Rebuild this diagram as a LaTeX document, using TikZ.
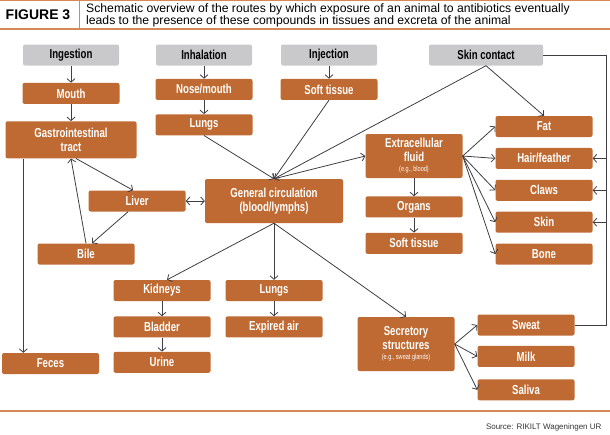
\documentclass[tikz,border=0pt]{standalone}
\usepackage{fontspec}
\setsansfont{Liberation Sans}[FakeStretch=0.74]
\newfontfamily\headfont{Liberation Sans}
\usetikzlibrary{arrows.meta,positioning,calc}
\definecolor{boxorange}{RGB}{190,106,50}
\definecolor{srcgray}{RGB}{201,201,204}
\definecolor{rulecol}{RGB}{214,137,84}
\definecolor{wire}{RGB}{62,62,68}
\newcommand{\egnote}[1]{{\mdseries\fontsize{7.5}{8}\selectfont #1}}

\begin{document}
\begin{tikzpicture}[
  x=1pt, y=1pt,
  font=\sffamily\bfseries\fontsize{13}{13.5}\selectfont,
  >={Straight Barb[length=3.5pt,width=8pt]},
  source/.style={fill=srcgray, rounded corners=2pt, align=center,
                 minimum height=21pt, minimum width=96pt, inner sep=0pt},
  block/.style={fill=boxorange, text=white, rounded corners=2pt, align=center,
                minimum height=21pt, minimum width=97pt, inner sep=0pt},
  sig/.style={draw=wire, line width=0.8pt}
]
\useasboundingbox (0,0) rectangle (610,-434);

% Header
\draw[rulecol, line width=1.2pt] (0,-0.6) -- (610,-0.6);
\draw[rulecol, line width=1.2pt] (0,-29) -- (610,-29);
\draw[rulecol, line width=1pt] (79,0) -- (79,-29);
\node[font=\headfont\bfseries\fontsize{14}{14}\selectfont] (figlabel) at (38,-15) {FIGURE 3};
\node[anchor=west, align=left, inner sep=0pt,
      font=\headfont\fontsize{12.2}{12}\selectfont] (title) at (86,-15)
  {Schematic overview of the routes by which exposure of an animal to antibiotics eventually\\
   leads to the presence of these compounds in tissues and excreta of the animal};

% Routes of exposure
\node[source] (ingestion) at (71,-55) {Ingestion};
\node[block, below=17pt of ingestion] (mouth) {Mouth};
\node[block, minimum width=131pt, minimum height=37pt, below=17pt of mouth] (gastro)
  {Gastrointestinal\\tract};

\node[source] (inhalation) at (204,-55) {Inhalation};
\node[block, below=13pt of inhalation] (nose) {Nose/mouth};
\node[block, below=14pt of nose] (lungsA) {Lungs};

\node[source] (injection) at (329,-55) {Injection};
\node[block, below=13pt of injection] (softA) {Soft tissue};

\node[source, minimum width=114pt] (skincontact) at (486,-55) {Skin contact};

% Distribution
\node[block, minimum width=138pt, minimum height=44pt] (gc) at (274,-201)
  {General circulation\\(blood/lymphs)};
\node[block, left=19pt of gc] (liver) {Liver};
\node[block] (bile) at (86,-254) {Bile};

\node[block, minimum height=44pt] (extra) at (414,-156)
  {Extracellular\\fluid\\[-3pt]\egnote{(e.g., blood)}};
\node[block, below=18pt of extra] (organs) {Organs};
\node[block, below=15pt of organs] (softB) {Soft tissue};

\node[block] (fat) at (544,-126.5) {Fat};
\node[block, below=10.5pt of fat] (hair) {Hair/feather};
\node[block, below=10.5pt of hair] (claws) {Claws};
\node[block, below=10.5pt of claws] (skinbox) {Skin};
\node[block, below=10.5pt of skinbox] (bone) {Bone};

% Excretion
\node[block] (feces) at (50.5,-363.5) {Feces};
\node[block] (kidneys) at (162,-290.5) {Kidneys};
\node[block, below=15pt of kidneys] (bladder) {Bladder};
\node[block, below=14pt of bladder] (urine) {Urine};
\node[block] (lungsB) at (274,-290.5) {Lungs};
\node[block, below=15pt of lungsB] (expired) {Expired air};

\node[block, minimum height=54pt] (secretory) at (406,-344)
  {Secretory\\structures\\[-3pt]\egnote{(e.g., sweat glands)}};
\node[block] (sweat) at (526,-325) {Sweat};
\node[block, below=10pt of sweat] (milk) {Milk};
\node[block, below=12pt of milk] (saliva) {Saliva};

% Footer
\draw[rulecol, line width=1.3pt] (0,-411) -- (610,-411);
\node[anchor=east, text=black!80, font=\headfont\fontsize{8}{9}\selectfont] (credit)
  at (605,-427) {Source: RIKILT Wageningen UR};

% Connectors: entry
\draw[sig,->] (ingestion) -- (mouth);
\draw[sig,->] (mouth) -- (gastro);
\draw[sig,->] (inhalation) -- (nose);
\draw[sig,->] (nose) -- (lungsA);
\draw[sig,->] (injection) -- (softA);
\draw[sig,->] (lungsA.south) -- (gc.north);
\draw[sig,->] (softA.south) -- (gc.north);
\draw[sig,->] (skincontact.south) -- (gc.north);
\draw[sig,->] (skincontact.south) -- (fat.north);
\draw[sig,->] (gc.north) -- (extra.west);

% Connectors: gut, liver, bile
\draw[sig,->] ([xshift=5pt]gastro.south) -- ([xshift=-4pt]liver.north);
\draw[sig,->] ([xshift=-9pt]liver.south) -- ([xshift=6pt]bile.north);
\draw[sig,->] (bile.north) -- (gastro.south);
\draw[sig,<->] (liver.east) -- (gc.west);
\draw[sig,->] ([xshift=18pt]gastro.south west) -- ([xshift=21.5pt]feces.north west);

% Connectors: tissues
\draw[sig,->] (extra) -- (organs);
\draw[sig,->] (organs) -- (softB);
\draw[sig,->] (extra.east) -- (fat.west);
\draw[sig,->] (extra.east) -- (hair.west);
\draw[sig,->] (extra.east) -- (claws.west);
\draw[sig,->] (extra.east) -- (skinbox.west);
\draw[sig,->] (extra.east) -- (bone.west);

% Skin contact and sweat rail
\coordinate (rail) at (606,-55);
\draw[sig] (skincontact.east) -- (rail) |- (sweat.east);
\draw[sig,->] (rail |- hair.east) -- (hair.east);
\draw[sig,->] (rail |- claws.east) -- (claws.east);
\draw[sig,->] (rail |- skinbox.east) -- (skinbox.east);

% Connectors: excretion
\draw[sig,->] (gc.south) -- ([xshift=5pt]kidneys.north);
\draw[sig,->] (gc.south) -- (lungsB.north);
\draw[sig,->] (gc.south) -- (secretory.north);
\draw[sig,->] (kidneys) -- (bladder);
\draw[sig,->] (bladder) -- (urine);
\draw[sig,->] (lungsB) -- (expired);
\draw[sig,->] (secretory.east) -- (sweat.west);
\draw[sig,->] (secretory.east) -- (milk.west);
\draw[sig,->] (secretory.east) -- (saliva.west);

\end{tikzpicture}
\end{document}
